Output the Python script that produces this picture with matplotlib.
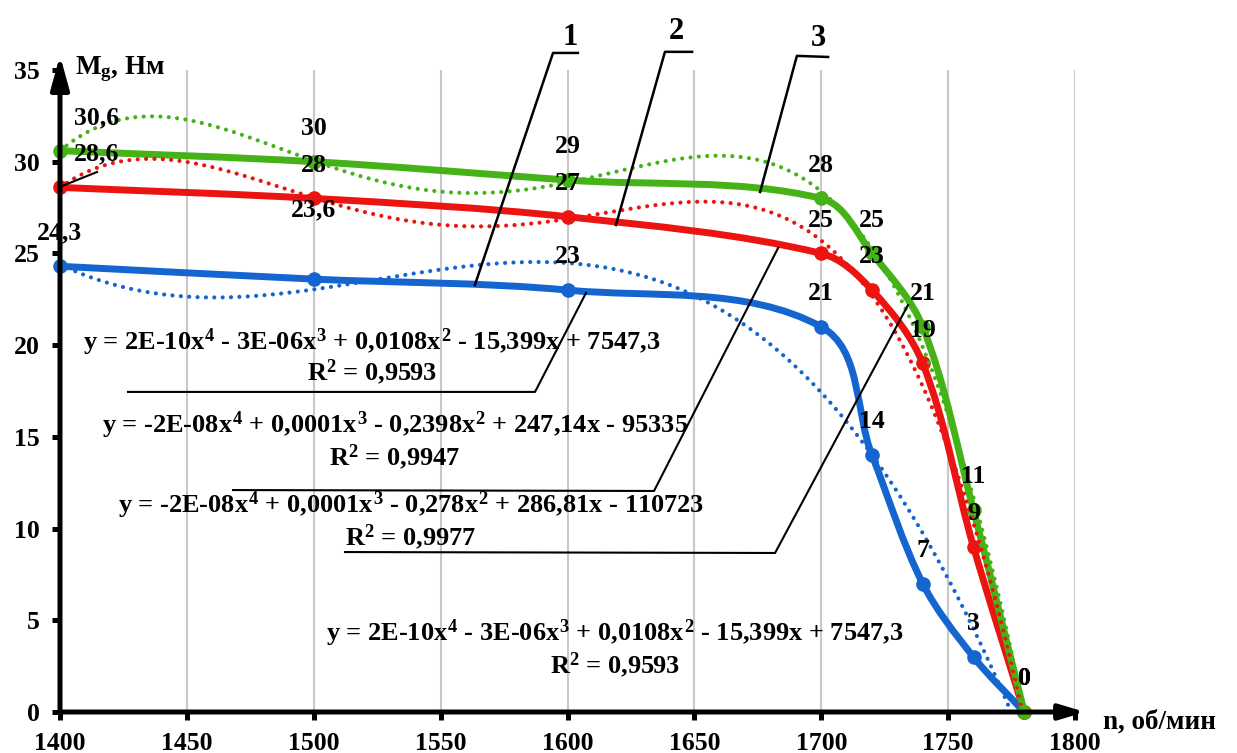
import numpy as np
import matplotlib
matplotlib.use("Agg")
import matplotlib.pyplot as plt
from matplotlib.path import Path
from matplotlib.patches import PathPatch

plt.rcParams['font.family'] = ['Liberation Serif', 'DejaVu Serif']
plt.rcParams['font.weight'] = 'bold'
plt.rcParams['mathtext.fontset'] = 'custom'
plt.rcParams['mathtext.rm'] = 'Liberation Serif:bold'
plt.rcParams['mathtext.it'] = 'Liberation Serif:bold'
plt.rcParams['mathtext.bf'] = 'Liberation Serif:bold'

## data
n = [1400, 1500, 1600, 1700, 1720, 1740, 1760, 1780]
m_blue = [24.3, 23.6, 23, 21, 14, 7, 3, 0]
m_red = [28.6, 28, 27, 25, 23, 19, 9, 0]
m_green = [30.6, 30, 29, 28, 25, 21, 11, 0]

lbl_blue = ['24,3', '23,6', '23', '21', '14', '7', '3', '0']
lbl_red = ['28,6', '28', '27', '25', '23', '19', '9', '0']
lbl_green = ['30,6', '30', '29', '28', '25', '21', '11', '0']

eq_texts = [
    ('y = 2E-10$x^4$ - 3E-06$x^3$ + 0,0108$x^2$ - 15,399x + 7547,3', 'R$^2$ = 0,9593'),
    ('y = -2E-08$x^4$ + 0,0001$x^3$ - 0,2398$x^2$ + 247,14x - 95335', 'R$^2$ = 0,9947'),
    ('y = -2E-08$x^4$ + 0,0001$x^3$ - 0,278$x^2$ + 286,81x - 110723', 'R$^2$ = 0,9977'),
    ('y = 2E-10$x^4$ - 3E-06$x^3$ + 0,0108$x^2$ - 15,399x + 7547,3', 'R$^2$ = 0,9593'),
]

c_blue = '#1565d0'
c_red = '#ec1410'
c_green = '#45b318'

x_ticks = np.arange(1400, 1801, 50)
y_ticks = np.arange(0, 36, 5)


def smooth_path(ax, xs, ys):
    # smoothed line like Excel: cubic Beziers, tangents built in screen space
    tr = ax.transData
    p = tr.transform(np.column_stack([xs, ys]).astype(float))
    verts = [p[0]]
    codes = [Path.MOVETO]
    tang = []
    for i in range(len(p)):
        a = p[i - 1] if i > 0 else p[i]
        b = p[i + 1] if i + 1 < len(p) else p[i]
        d = b - a
        tang.append(d / np.hypot(*d))
    for i in range(len(p) - 1):
        seg = np.hypot(*(p[i + 1] - p[i])) / 3.0
        c1 = p[i] + tang[i] * seg
        c2 = p[i + 1] - tang[i + 1] * seg
        verts += [c1, c2, p[i + 1]]
        codes += [Path.CURVE4] * 3
    verts = tr.inverted().transform(np.array(verts))
    return Path(verts, codes)


fig = plt.figure(figsize=(12.37, 7.53), dpi=100)
ax = fig.add_axes([60 / 1237, 41 / 753, 1015 / 1237, 642 / 753])
ax.set_xlim(1400, 1800)
ax.set_ylim(0, 35)

for s in ax.spines.values():
    s.set_visible(False)

# vertical grid
ax.vlines(x_ticks[1:], 0, 35, color='#c8c8c8', lw=1.5, zorder=0)

# axes with arrows
ax.annotate('', xy=(1804, 0), xytext=(1400, 0), annotation_clip=False,
            arrowprops=dict(arrowstyle='-|>,head_length=1.5,head_width=0.45',
                            lw=3.6, color='black', shrinkA=0, shrinkB=0), zorder=6)
ax.annotate('', xy=(1400, 35.8), xytext=(1400, 0), annotation_clip=False,
            arrowprops=dict(arrowstyle='-|>,head_length=2.0,head_width=0.55',
                            lw=3.6, color='black', shrinkA=0, shrinkB=0), zorder=6)

ax.set_xticks(x_ticks)
ax.set_yticks(y_ticks)
ax.tick_params(direction='out', length=5.8, width=3.6, labelsize=18.5, pad=8.5)
for t in ax.get_xticklabels() + ax.get_yticklabels():
    t.set_fontweight('bold')

# smoothed series
for ys, col in [(m_blue, c_blue), (m_red, c_red), (m_green, c_green)]:
    ax.add_patch(PathPatch(smooth_path(ax, n, ys), fill=False, edgecolor=col, lw=5,
                           capstyle='round', joinstyle='round', zorder=3, clip_on=False))
    ax.plot(n, ys, 'o', color=col, ms=9.5, zorder=3, clip_on=False)

# polynomial trendlines (4th order)
xx = np.linspace(1400, 1780, 400)
for ys, col in [(m_blue, c_blue), (m_red, c_red), (m_green, c_green)]:
    cf = np.polyfit(np.array(n) - 1600, ys, 4)
    ax.plot(xx, np.polyval(cf, xx - 1600), color=col, lw=3.0,
            linestyle=(0, (0.01, 2.0)), dash_capstyle='round', zorder=4)

# data labels
offsets = {('g', 0): (26.6, 24), ('r', 0): (26, 24.5), ('b', 1): (0, 50)}
for key, ys, labels in [('b', m_blue, lbl_blue), ('r', m_red, lbl_red), ('g', m_green, lbl_green)]:
    for i, (xv, yv, lb) in enumerate(zip(n, ys, labels)):
        off = offsets.get((key, i), (0, 24))
        ax.annotate(lb, (xv, yv), xytext=off, textcoords='offset points',
                    ha='center', va='center', fontsize=18.5, fontweight='bold',
                    annotation_clip=False, zorder=7)

# leader for 28,6
ax.plot([1400, 1414.6], [28.63, 29.44], color='black', lw=1.5, clip_on=False, zorder=7)

# curve numbers 1, 2, 3
curve_num = ['1', '2', '3']
num_pos = [(1601, 36.75), (1642.8, 37.1), (1698.7, 36.7)]
num_lines = [([1604.1, 1594.3, 1563.5], [35.93, 35.93, 23.28]),
             ([1649.1, 1638.4, 1619.1], [35.99, 35.99, 26.55]),
             ([1702.7, 1690.4, 1675.9], [35.71, 35.77, 28.35])]
for t, (tx, ty), (lx, ly) in zip(curve_num, num_pos, num_lines):
    ax.text(tx, ty, t, fontsize=22, fontweight='bold', ha='center', va='center')
    ax.plot(lx, ly, color='black', lw=1.8, clip_on=False, zorder=7)

# trendline equations
eq_pos = [(1523, 20.17, 18.54), (1532, 15.65, 13.9), (1538.3, 11.29, 9.54), (1618.7, 4.31, 2.56)]
for (l1, l2), (ex, ey1, ey2) in zip(eq_texts, eq_pos):
    ax.text(ex, ey1, l1, fontsize=19, fontweight='bold', ha='center', va='center', zorder=8)
    ax.text(ex, ey2, l2, fontsize=19, fontweight='bold', ha='center', va='center', zorder=8)

eq_lines = [([1426.8, 1587.2, 1607.3], [17.45, 17.45, 22.85]),
            ([1468.2, 1634.1, 1683.0], [12.10, 12.05, 25.30]),
            ([1512.3, 1681.8, 1734.2], [8.72, 8.67, 22.19])]
for lx, ly in eq_lines:
    ax.plot(lx, ly, color='black', lw=1.5, zorder=7)

# axis titles
ax.text(1406, 35.05, '$M_g$, Нм', fontsize=19.5, fontweight='bold', ha='left', va='center')
ax.text(1811, -0.55, 'n, об/мин', fontsize=19.5, fontweight='bold', ha='left', va='center')

fig.savefig('out.png', dpi=100)
